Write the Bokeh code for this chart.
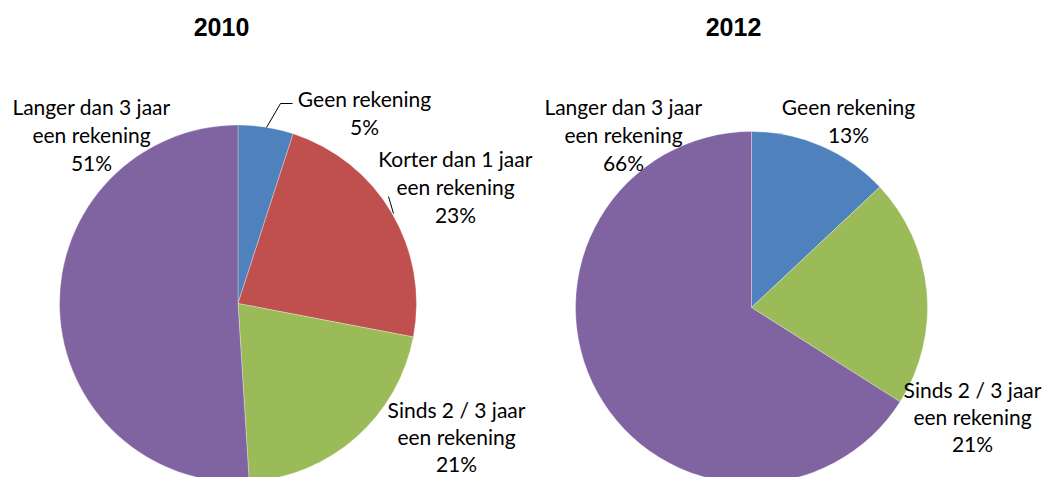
import math
from bokeh.plotting import figure
from bokeh.models import Range1d, ColumnDataSource
from bokeh.core.properties import value
from bokeh.embed import file_html
from bokeh.resources import INLINE

# ---- data ----
categories = ["Geen rekening", "Korter dan 1 jaar een rekening",
              "Sinds 2 / 3 jaar een rekening", "Langer dan 3 jaar een rekening"]
values_2010 = [5, 23, 21, 51]
values_2012 = [13, 0, 21, 66]
years = ["2010", "2012"]
colors = ["#4F81BD", "#C0504D", "#9BBB59", "#8064A2"]

# ---- layout (screen-like coordinates: x right, y = -pixel row) ----
W, H = 1046, 477
p = figure(width=W, height=H, output_backend="svg", toolbar_location=None,
           x_range=Range1d(0, W), y_range=Range1d(-H, 0),
           x_axis_location=None, y_axis_location=None, min_border=0)
p.outline_line_color = None
p.grid.visible = False

pies = [
    dict(vals=values_2010, cx=237.5, cy=303, r=178.5, tx=221),
    dict(vals=values_2012, cx=751, cy=307, r=176, tx=733),
]

label_font = value("Lato")
label_size = "21px"

# label anchor positions per pie and category (centre x, first line y, line step)
label_pos = [
    {0: (364, 98, 28), 1: (455, 158, 28), 2: (456, 409, 27), 3: (91, 106, 28)},
    {0: (848, 106, 28), 2: (972, 389, 27), 3: (623, 106, 28)},
]

for pi, (pie, yr) in enumerate(zip(pies, years)):
    vals = pie["vals"]
    total = sum(vals)
    starts, ends, cols = [], [], []
    cum = 0
    for v, c in zip(vals, colors):
        if v <= 0:
            continue
        a0 = math.pi / 2 - 2 * math.pi * cum / total
        cum += v
        a1 = math.pi / 2 - 2 * math.pi * cum / total
        starts.append(a0)
        ends.append(a1)
        cols.append(c)
    src = ColumnDataSource(dict(start=starts, end=ends, color=cols))
    p.wedge(x=pie["cx"], y=-pie["cy"], radius=pie["r"], start_angle="start",
            end_angle="end", direction="clock", fill_color="color",
            line_color="white", line_width=0.5, line_alpha=0.6, source=src)

    # title
    p.text(x=[pie["tx"]], y=[-26], text=[yr], text_font=value("Liberation Sans"),
           text_font_style="bold", text_font_size="25px", text_align="center",
           text_baseline="middle", text_color="black")

    # labels
    for ci, v in enumerate(vals):
        if v <= 0:
            continue
        name = categories[ci]
        if name.endswith(" een rekening"):
            lines = [name[:-len(" een rekening")], "een rekening"]
        else:
            lines = [name]
        lines.append(f"{round(100 * v / total)}%")
        lx, ly, step = label_pos[pi][ci]
        xs = [lx] * len(lines)
        ys = [-(ly + step * k) for k in range(len(lines))]
        p.text(x=xs, y=ys, text=lines, text_font=label_font,
               text_font_size=label_size, text_align="center",
               text_baseline="middle", text_color="black")

# leader lines (2010)
p.line(x=[266, 280, 292], y=[-127, -103, -103], line_color="black", line_width=1)
p.line(x=[393, 388], y=[-213, -196], line_color="black", line_width=1)

open("out.html", "w").write(file_html(p, INLINE))
